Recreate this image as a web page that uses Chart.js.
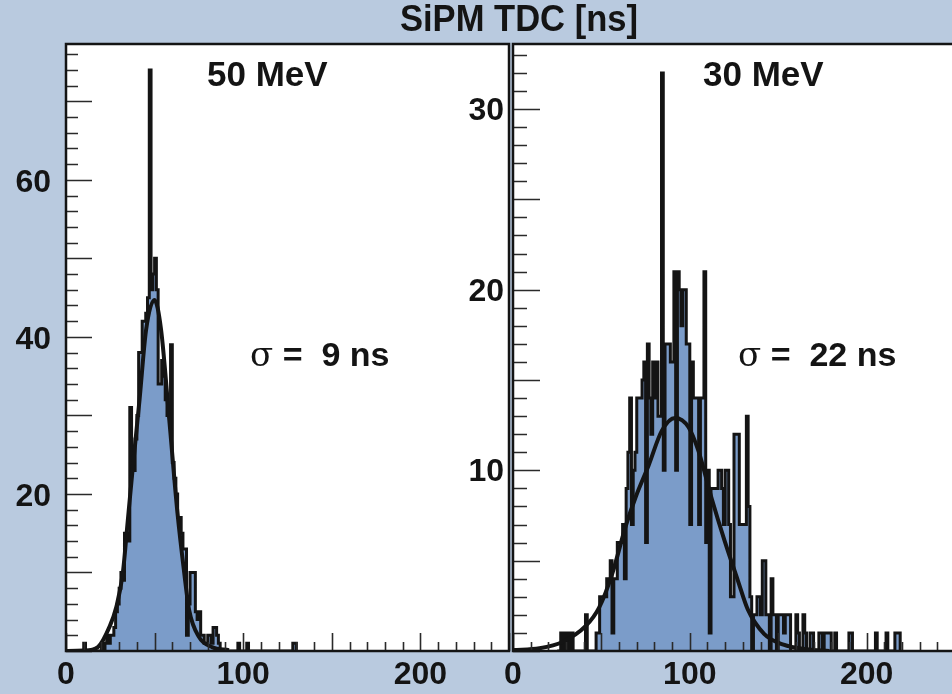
<!DOCTYPE html>
<html>
<head>
<meta charset="utf-8">
<title>SiPM TDC</title>
<script src="https://cdn.jsdelivr.net/npm/chart.js@4.4.1/dist/chart.umd.min.js"></script>
<style>
  html, body { margin: 0; padding: 0; }
  body { width: 952px; height: 694px; overflow: hidden; position: relative; background: #b9cadf; font-family: 'Liberation Sans', Arial, sans-serif; }
  canvas { position: absolute; top: 0; }
  #leftPanel { left: 0; }
  #rightPanel { left: 440px; }
  .txt { position: absolute; white-space: nowrap; line-height: 1; color: #141414; font-weight: bold; }
  .sig { font-family: 'DejaVu Serif', 'Liberation Serif', serif; font-weight: normal; }
</style>
</head>
<body>
<canvas id="leftPanel" width="514" height="694"></canvas>
<canvas id="rightPanel" width="520" height="694"></canvas>

<div class="txt" id="title" style="left:519px; top:1px; transform:translateX(-50%) scaleX(0.96); font-size:36px;">SiPM TDC [ns]</div>
<div class="txt" style="left:207px; top:56px; font-size:35px;">50 MeV</div>
<div class="txt" style="left:703px; top:56px; font-size:35px;">30 MeV</div>
<div class="txt" style="left:250px; top:337px; font-size:34px;"><span class="sig">σ</span> =&nbsp; 9 ns</div>
<div class="txt" style="left:738px; top:337px; font-size:34px;"><span class="sig">σ</span> =&nbsp; 22 ns</div>

<script>
// ---- data (1 ns bins, counts per bin) ----
const xTickLabels = [0, 100, 200];
const leftYTickLabels = [20, 40, 60];
const rightYTickLabels = [10, 20, 30];

// 50 MeV, first bin starts at 8 ns
const leftBinStart = 8;
const leftCounts = [
  0, 0, 1, 0, 0, 0, 0, 0, 0, 0,          // 8-17
  0, 0, 1, 0, 1, 2, 1, 2, 2, 3,          // 18-27
  5, 6, 8, 10, 9, 15, 15, 14, 31, 23,    // 28-37
  23, 27, 30, 38, 38, 42, 42, 43, 45, 74, // 38-47
  46, 48, 50, 46, 34, 34, 37, 35, 32, 30, // 48-57
  30, 39, 24, 22, 20, 17, 17, 15, 13, 13, // 58-67
  2, 6, 10, 10, 10, 5, 4, 5, 2, 2,       // 68-77
  1, 1, 2, 2, 1, 3, 3, 2, 1, 0,          // 78-87
  0, 0, 0, 0, 0, 0, 0, 0, 0, 1,          // 88-97
  0, 0, 0, 0, 1, 0, 0, 0, 0, 0,          // 98-107
  0, 0, 0, 0, 0, 0, 0, 0, 0, 0,          // 108-117
  0, 0, 0, 0, 0, 0, 0, 0, 0, 0,          // 118-127
  1, 1                                   // 128-129
];

// 30 MeV, first bin starts at 25 ns
const rightBinStart = 25;
const rightCounts = [
  0, 0, 1, 0, 1, 0, 1, 0, 1, 0,          // 25-34
  0, 0, 0, 0, 0, 0, 2, 0, 0, 0,          // 35-44
  0, 0, 1, 1, 3, 3, 3, 3, 4, 4,          // 45-54
  5, 1, 4, 4, 6, 6, 6, 7, 4, 9,          // 55-64
  11, 14, 7, 10, 11, 14, 14, 14, 15, 16, // 65-74
  6, 17, 14, 12, 16, 14, 16, 13, 13, 32, // 75-84
  10, 17, 17, 17, 16, 16, 21, 10, 21, 20, // 85-94
  18, 20, 20, 17, 17, 7, 16, 14, 14, 14, // 95-104
  7, 14, 14, 21, 6, 10, 1, 9, 9, 9,      // 105-114
  9, 10, 10, 9, 7, 10, 10, 7, 3, 3,      // 115-124
  12, 12, 12, 7, 7, 7, 7, 13, 8, 3,      // 125-134
  0, 2, 2, 3, 3, 2, 5, 5, 2, 2,          // 135-144
  0, 4, 2, 2, 0, 2, 2, 2, 1, 2,          // 145-154
  2, 2, 0, 0, 0, 2, 1, 0, 0, 2,          // 155-164
  1, 0, 0, 1, 1, 0, 0, 0, 1, 1,          // 165-174
  0, 1, 1, 1, 1, 0, 0, 1, 0, 0,          // 175-184
  0, 0, 0, 0, 0, 1, 1, 0, 0, 0,          // 185-194
  0, 0, 0, 0, 0, 0, 0, 0, 0, 0,          // 195-204
  1, 0, 0, 0, 0, 0, 1, 0, 0, 0,          // 205-214
  0, 1, 1, 1                             // 215-218
];

// gaussian fit curves [ns, counts]
const leftFitX = [0, 10, 18, 24.6, 28.4, 32.1, 34.9, 37.7, 41.5, 45.2, 49.9, 53.6, 58.3, 62.9, 66.7, 69.5, 75, 82.4, 92];
const leftFitY = [0, 0.05, 0.5, 3.1, 5.6, 10, 16.7, 23.4, 32, 40.9, 44.7, 41, 29.4, 17.6, 10, 5.2, 1.8, 0.5, 0.1];
const rightFitX = [0, 15, 28, 41.3, 48.7, 56.2, 63.7, 69.3, 76.8, 84.2, 91.7, 99.2, 104.8, 112.2, 119.7, 127.2, 132.8, 142, 153, 166, 179];
const rightFitY = [0.05, 0.15, 0.5, 1.4, 2.4, 4.3, 6.9, 8.5, 10.3, 12.2, 12.9, 12.4, 11.1, 8.5, 6.1, 3.9, 2.3, 0.95, 0.35, 0.1, 0];

const inkColor = '#141414';
const fillColor = '#7b9cc9';
const tickFont = { family: "'Liberation Sans', Arial, sans-serif", size: 32, weight: 'bold' };

function histPoints(start, counts) {
    const pts = [{ x: start, y: 0 }];
    counts.forEach((c, i) => pts.push({ x: start + i, y: c }));
    pts.push({ x: start + counts.length, y: 0 });
    return pts;
}

function fitPoints(xs, ys) {
    return xs.map((x, i) => ({ x: x, y: ys[i] }));
}

// white plot area, frame and inward tick marks (ROOT style)
const frameAndTicks = {
    id: 'frameAndTicks',
    beforeDraw(chart) {
        const { ctx, chartArea: a } = chart;
        ctx.save();
        ctx.fillStyle = '#ffffff';
        ctx.fillRect(a.left, a.top, a.right - a.left, a.bottom - a.top);
        ctx.restore();
    },
    afterDatasetsDraw(chart, args, opts) {
        const { ctx, chartArea: a, scales } = chart;
        ctx.save();
        ctx.strokeStyle = '#2a2a2a';
        ctx.lineWidth = 1.6;
        ctx.beginPath();
        scales.x.ticks.forEach(t => {
            const px = Math.round(scales.x.getPixelForValue(t.value)) + 0.5;
            const len = t.value % opts.xMajor === 0 ? 18 : 9;
            ctx.moveTo(px, a.bottom);
            ctx.lineTo(px, a.bottom - len);
        });
        scales.y.ticks.forEach(t => {
            if (t.value % opts.yStep !== 0) return;
            const py = Math.round(scales.y.getPixelForValue(t.value)) + 0.5;
            const len = t.value % opts.yMajor === 0 ? opts.yLongLen : opts.yShortLen;
            ctx.moveTo(a.left, py);
            ctx.lineTo(a.left + len, py);
        });
        ctx.stroke();

        ctx.strokeStyle = inkColor;
        ctx.lineWidth = 2.5;
        ctx.strokeRect(a.left, a.top, a.right - a.left, a.bottom - a.top);
        ctx.restore();
    }
};

function makeConfig(hist, fit, yMax, yStep, yLabels, yAxisWidth, yPad, yLabelShift, tickOpts, rightPad) {
    return {
        type: 'line',
        data: {
            datasets: [
                {
                    data: hist,
                    stepped: true,
                    borderColor: inkColor,
                    borderWidth: 3,
                    backgroundColor: fillColor,
                    fill: 'origin',
                    pointRadius: 0,
                    order: 2
                },
                {
                    data: fit,
                    borderColor: inkColor,
                    borderWidth: 4,
                    fill: false,
                    pointRadius: 0,
                    cubicInterpolationMode: 'monotone',
                    order: 1
                }
            ]
        },
        options: {
            responsive: false,
            animation: false,
            events: [],
            layout: { padding: { top: 44, right: rightPad, bottom: 0, left: 0 } },
            plugins: {
                legend: { display: false },
                tooltip: { enabled: false },
                frameAndTicks: tickOpts
            },
            scales: {
                x: {
                    type: 'linear',
                    min: 0,
                    max: 250,
                    grid: { display: false, drawTicks: false },
                    border: { display: false },
                    afterFit: (s) => { s.height = 43; },
                    ticks: {
                        stepSize: 10,
                        autoSkip: false,
                        maxRotation: 0,
                        includeBounds: false,
                        padding: 5,
                        color: inkColor,
                        font: tickFont,
                        callback: (v) => xTickLabels.includes(v) ? String(v) : ''
                    }
                },
                y: {
                    type: 'linear',
                    min: 0,
                    max: yMax,
                    grid: { display: false, drawTicks: false },
                    border: { display: false },
                    afterFit: (s) => { s.width = yAxisWidth; },
                    ticks: {
                        stepSize: yStep,
                        autoSkip: false,
                        includeBounds: false,
                        padding: yPad,
                        labelOffset: yLabelShift,
                        color: inkColor,
                        font: tickFont,
                        callback: (v) => yLabels.includes(v) ? String(v) : ''
                    }
                }
            }
        },
        plugins: [frameAndTicks]
    };
}

if (typeof Chart !== 'undefined') {
    new Chart(document.getElementById('leftPanel'), makeConfig(
        histPoints(leftBinStart, leftCounts),
        fitPoints(leftFitX, leftFitY),
        77.3, 2, leftYTickLabels, 66, 15, 3,
        { xMajor: 50, yStep: 2, yMajor: 10, yShortLen: 12, yLongLen: 26 },
        2
    ));
    new Chart(document.getElementById('rightPanel'), makeConfig(
        histPoints(rightBinStart, rightCounts),
        fitPoints(rightFitX, rightFitY),
        33.6, 1, rightYTickLabels, 73, 9, 2,
        { xMajor: 50, yStep: 1, yMajor: 5, yShortLen: 14, yLongLen: 27 },
        1
    ));
} else {
    console.error('Chart.js library not loaded.');
}
</script>
</body>
</html>
